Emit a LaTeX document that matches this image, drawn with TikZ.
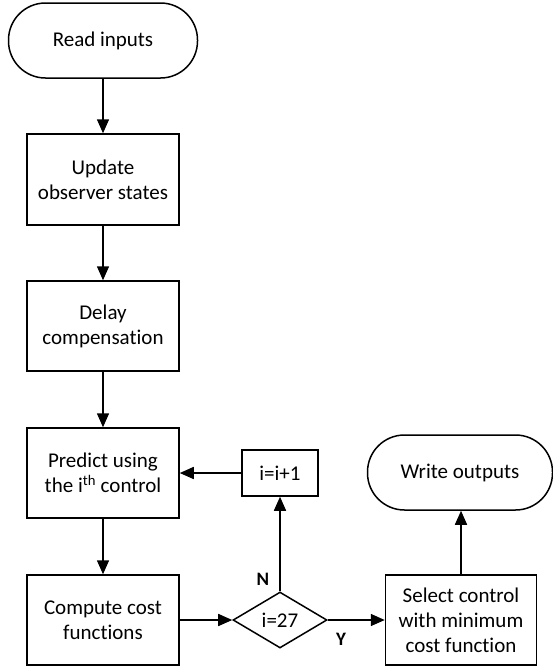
\documentclass[tikz,border=0pt]{standalone}
\usepackage{fontspec}
\setmainfont[Ligatures=NoCommon]{Carlito}
\usetikzlibrary{arrows.meta,shapes.geometric}
\begin{document}
\begin{tikzpicture}[x=1pt,y=-1pt,
  every node/.style={font=\fontsize{21}{25}\selectfont, align=center, line width=1.5pt, inner sep=0pt},
  term/.style={draw, rectangle, rounded corners=37pt, minimum width=189pt, minimum height=75pt},
  procbox/.style={draw, rectangle, minimum width=152pt, minimum height=90pt},
  decide/.style={draw, diamond, minimum width=94pt, minimum height=56pt, aspect=1.68},
  lbl/.style={font=\fontsize{19}{21}\selectfont\bfseries},
  flow/.style={line width=1.5pt, -{Triangle[length=14pt,width=12pt]}}]
\useasboundingbox (0,0) rectangle (553,670);
\node[term] (read) at (103,40.5) {Read inputs};
\node[procbox, minimum height=91pt] (upd) at (103,179.5) {Update\\observer states};
\node[procbox] (delay) at (103,326) {Delay\\compensation};
\node[procbox] (pred) at (103,473) {Predict using\\the $\mathrm{i}^{\mathrm{th}}$ control};
\node[procbox] (comp) at (103,620) {Compute cost\\functions};
\node[draw, rectangle, minimum width=76pt, minimum height=46pt] (inc) at (280,473) {i=i+1};
\node[decide] (dec) at (280,620) {i=27};
\node[procbox, minimum width=151pt] (sel) at (461,620) {Select control\\with minimum\\cost function};
\node[term, minimum width=185pt] (write) at (460,472.5) {Write outputs};
\node[lbl] (nlab) at (263,579) {N};
\node[lbl] (ylab) at (341,639) {Y};
\draw[flow] (read) -- (upd);
\draw[flow] (upd) -- (delay);
\draw[flow] (delay) -- (pred);
\draw[flow] (pred) -- (comp);
\draw[flow] (comp) -- (dec);
\draw[flow] (dec) -- (inc);
\draw[flow] (inc) -- (pred);
\draw[flow] (dec) -- (sel);
\draw[flow] (sel.north) -- (sel.north |- write.south);
\end{tikzpicture}
\end{document}
